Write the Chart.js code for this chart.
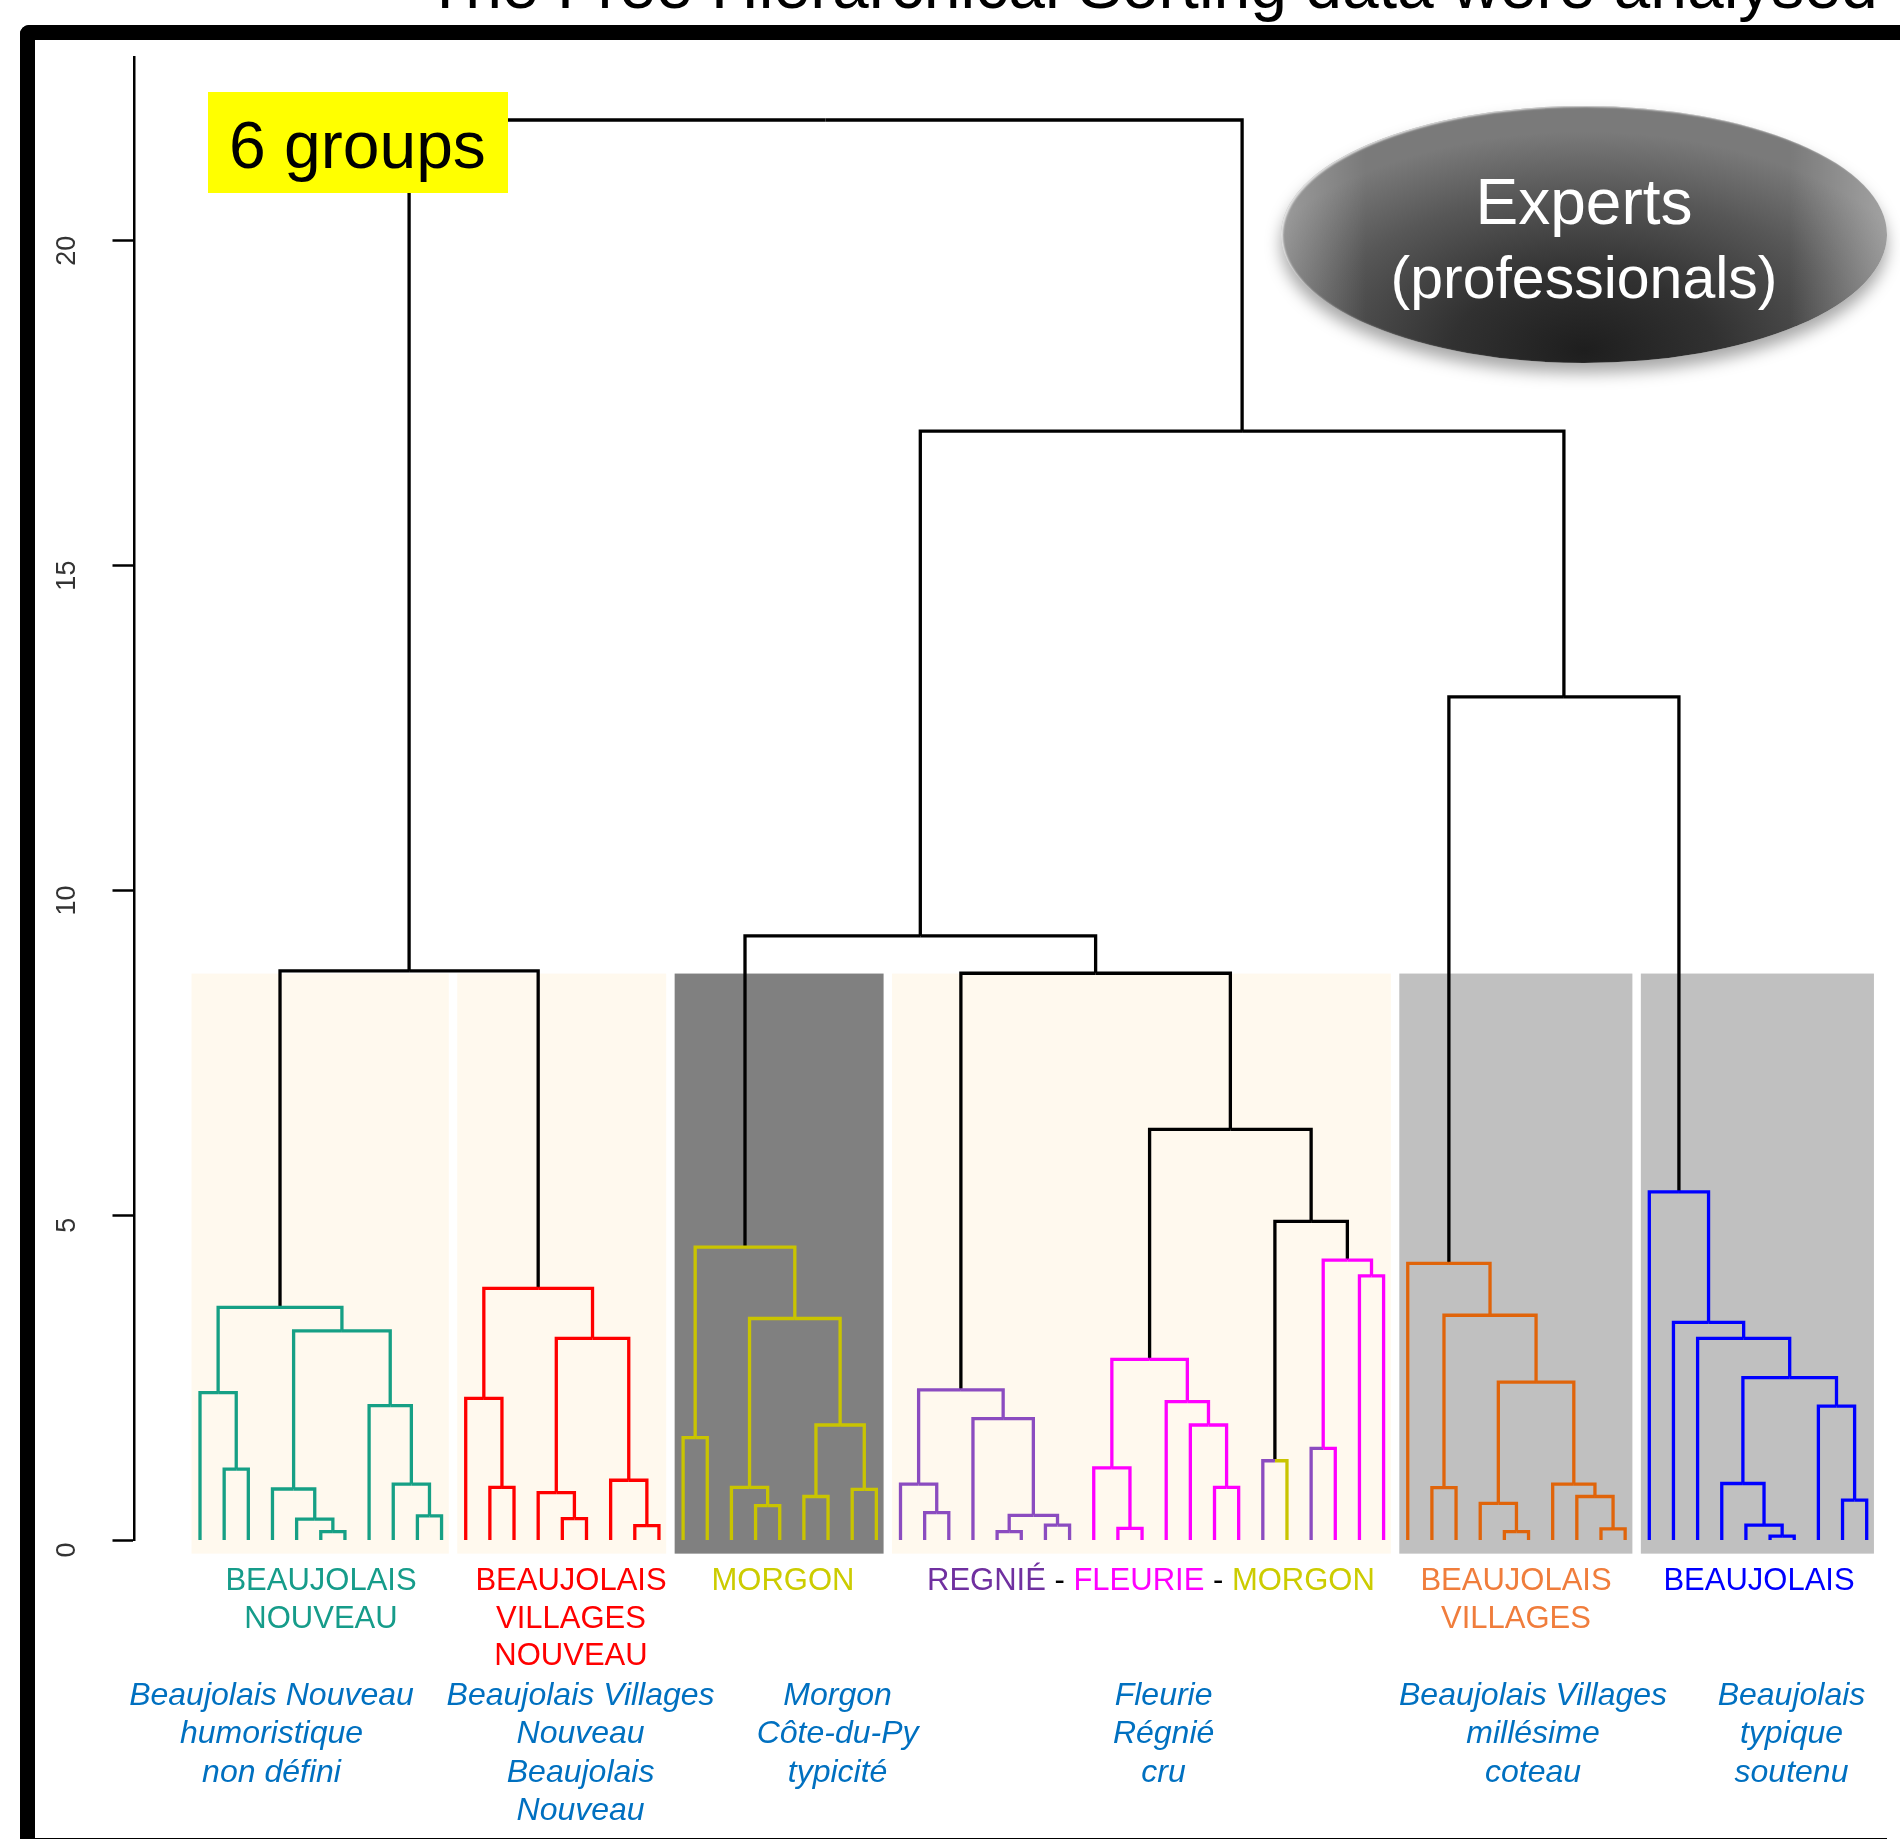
<!DOCTYPE html>
<html lang="fr">
  <head>
    <meta charset="UTF-8" />
    <title>Experts (professionals) - dendrogramme</title>
    <script src="https://cdn.jsdelivr.net/npm/chart.js"></script>
    <style>
      html,
      body {
        margin: 0;
        padding: 0;
        background: #fff;
        overflow: hidden;
      }
      #page {
        position: relative;
        width: 1900px;
        height: 1839px;
        overflow: hidden;
        background: #fff;
        font-family: "Liberation Sans", Arial, sans-serif;
      }
      #dendro {
        position: absolute;
        left: 0;
        top: 0;
      }
      .frame {
        position: absolute;
        left: 20px;
        top: 25px;
        width: 1900px;
        height: 1798px;
        border: 15px solid #000;
        border-right: none;
        border-radius: 9px 0 0 9px;
        pointer-events: none;
      }
      .edge {
        position: absolute;
        left: 1887px;
        top: 40px;
        width: 13px;
        height: 1799px;
        background: #fff;
      }
      .title {
        position: absolute;
        left: 425px;
        top: -48px;
        font-size: 66px;
        line-height: 66px;
        white-space: nowrap;
        color: #000;
      }
      .groups {
        position: absolute;
        left: 208px;
        top: 92px;
        width: 300px;
        height: 101px;
        box-sizing: border-box;
        padding: 20px 0 0 21px;
        background: #ffff00;
        font-size: 66px;
        line-height: 66px;
        white-space: nowrap;
      }
      .experts {
        position: absolute;
        left: 1281px;
        top: 106px;
        width: 606px;
        height: 257px;
        border-radius: 50%;
        background: linear-gradient(90deg, rgba(255, 255, 255, 0.25) 0%, rgba(255, 255, 255, 0) 14%, rgba(255, 255, 255, 0) 84%, rgba(255, 255, 255, 0.3) 100%),
          radial-gradient(ellipse 62% 85% at 50% 95%, #1e1e1e 0%, #313131 35%, #575757 72%, #7a7a7a 100%);
        box-shadow: 0 10px 16px rgba(0, 0, 0, 0.35), inset 2px 1px 2px rgba(255, 255, 255, 0.75);
      }
      .exp-line {
        position: absolute;
        left: 1281px;
        width: 606px;
        text-align: center;
        color: #fff;
        white-space: nowrap;
      }
      .lab,
      .desc {
        position: absolute;
        width: 440px;
        margin-left: -220px;
        text-align: center;
        white-space: nowrap;
      }
      .lab {
        top: 1561px;
        font-size: 31px;
        line-height: 37.6px;
      }
      .desc {
        top: 1675px;
        font-size: 32px;
        line-height: 38.3px;
        font-style: italic;
        color: #0070c0;
      }
    </style>
  </head>
  <body>
    <div id="page">
      <canvas id="dendro" width="1900" height="1839"></canvas>
      <div class="frame"></div>
      <div class="edge"></div>
      <div class="title">The Free Hierarchical Sorting data were analysed</div>
      <div class="groups">6 groups</div>
      <div class="experts"></div>
      <div class="exp-line" style="top: 170px; font-size: 64px; line-height: 64px">Experts</div>
      <div class="exp-line" style="top: 249px; font-size: 59px; line-height: 59px">(professionals)</div>
      <div id="labels"></div>
    </div>

    <script>
      // wine class of each leaf, left to right (70 wines)
      const leafClass = (
        "TTTTTTTTTTT" + "RRRRRRRRR" + "YYYYYYYYY" + "PPPPPPPP" +
        "MMMMMMM" + "PYPMMM" + "OOOOOOOOOO" + "BBBBBBBBBB"
      ).split("");

      // hclust style merges: negative = leaf, positive = earlier merge
      const merges = [
        [-2, -3], [-1, 1], [-6, -7], [-5, 3], [-4, 4], [-10, -11], [-9, 6], [-8, 7], [5, 8], [2, 9],
        [-13, -14], [-12, 11], [-16, -17], [-15, 13], [-19, -20], [-18, 15], [14, 16], [12, 17], [10, 18],
        [-21, -22], [-24, -25], [-23, 21], [-26, -27], [-28, -29], [23, 24], [22, 25], [20, 26],
        [-31, -32], [-30, 28], [-34, -35], [-36, -37], [30, 31], [-33, 32], [29, 33],
        [-39, -40], [-38, 35], [-43, -44], [-42, 37], [-41, 38], [36, 39],
        [-45, -46], [-47, -48], [-49, -50], [42, 43], [41, 44], [40, 45], [34, 46], [27, 47],
        [-52, -53], [-55, -56], [-54, 50], [-59, -60], [-58, 52], [-57, 53], [51, 54], [49, 55], [-51, 56],
        [-66, -67], [-65, 58], [-64, 59], [-69, -70], [-68, 61], [60, 62], [-63, 63], [-62, 64], [-61, 65],
        [57, 66], [48, 67], [19, 68],
      ];
      const heights = [
        1.09, 2.27, 0.13, 0.32, 0.785, 0.37, 0.86, 2.07, 3.22, 3.58,
        0.81, 2.18, 0.33, 0.73, 0.22, 0.92, 3.105, 3.875, 8.76,
        1.575, 0.53, 0.81, 0.67, 0.78, 1.77, 3.41, 4.51,
        0.42, 0.86, 0.13, 0.23, 0.38, 1.87, 2.31,
        0.18, 1.11, 0.81, 1.77, 2.13, 2.78,
        1.22, 1.41, 4.065, 4.31, 4.905, 6.32, 8.725, 9.3,
        0.805, 0.13, 0.565, 0.17, 0.67, 0.86, 2.43, 3.46, 4.26,
        0.06, 0.23, 0.87, 0.615, 2.06, 2.5, 3.105, 3.35, 5.36,
        12.98, 17.07, 21.86,
      ];

      // coloured sub-trees (merge number and the class that colours it)
      const groupRoots = [10, 18, 27, 34, 40, 41, 44, 57, 66];
      const groupRootClass = ["T", "R", "Y", "P", "M", null, "M", "O", "B"];

      // shaded boxes of the 6 groups (first and last leaf)
      const boxFirst = [1, 12, 21, 30, 51, 61];
      const boxLast = [11, 20, 29, 50, 60, 70];
      const boxShade = ["cream", "cream", "dark", "cream", "light", "light"];
      const boxTop = 8.72;
      const boxBottom = -0.21;

      const yTicks = [0, 5, 10, 15, 20];

      const groupNames = [
        ["BEAUJOLAIS", "NOUVEAU"],
        ["BEAUJOLAIS", "VILLAGES", "NOUVEAU"],
        ["MORGON"],
        ["REGNIÉ|-|FLEURIE|-|MORGON"],
        ["BEAUJOLAIS", "VILLAGES"],
        ["BEAUJOLAIS"],
      ];
      const groupDescriptions = [
        ["Beaujolais Nouveau", "humoristique", "non défini"],
        ["Beaujolais Villages", "Nouveau", "Beaujolais", "Nouveau"],
        ["Morgon", "Côte-du-Py", "typicité"],
        ["Fleurie", "Régnié", "cru"],
        ["Beaujolais Villages", "millésime", "coteau"],
        ["Beaujolais", "typique", "soutenu"],
      ];

      // styles
      const lineColour = { T: "#16a085", R: "#ff0000", Y: "#c9c400", P: "#8b4cc0", M: "#ff00ff", O: "#e0640a", B: "#0000ff" };
      const shadeColour = { cream: "#fff9ee", dark: "#808080", light: "#c0c0c0" };
      const nameColour = ["#169c8a", "#ff0000", "#cccc00", null, "#f07d3c", "#0000ff"];
      const mixedColour = ["#7030a0", "#000", "#ff00ff", "#000", "#cccc00"];
      const nameCentre = [321, 571, 783, 1147, 1516, 1759];
      const descCentre = [271.5, 580.6, 837.6, 1163.6, 1533, 1791.5];

      // node positions: leaf i at x = i, merge at middle of its two children
      const nodeX = [];
      const posOf = (c) => (c < 0 ? -c : nodeX[c - 1]);
      const hOf = (c) => (c < 0 ? 0 : heights[c - 1]);
      merges.forEach(([a, b], k) => {
        nodeX[k] = (posOf(a) + posOf(b)) / 2;
      });

      const coloured = [];
      const black = [];
      function walk(k, cls) {
        const gi = groupRoots.indexOf(k);
        const childCls = gi >= 0 ? groupRootClass[gi] : cls;
        const inGroup = gi >= 0 || cls !== undefined;
        const h = heights[k - 1];
        merges[k - 1].forEach((c) => {
          let col;
          if (c < 0) col = lineColour[leafClass[-c - 1]];
          else if (inGroup && childCls) col = lineColour[childCls];
          else col = "#000";
          const seg = {
            data: [
              { x: nodeX[k - 1], y: h },
              { x: posOf(c), y: h },
              { x: posOf(c), y: hOf(c) },
            ],
            borderColor: col,
            borderWidth: 3.3,
            showLine: true,
            pointRadius: 0,
            borderCapStyle: "butt",
            borderJoinStyle: "miter",
            clip: false,
          };
          (col === "#000" ? black : coloured).push(seg);
          if (c > 0) walk(c, inGroup ? childCls : undefined);
        });
      }
      walk(merges.length, undefined);

      const groupBoxes = {
        id: "groupBoxes",
        beforeDatasetsDraw(chart) {
          const { ctx, scales } = chart;
          ctx.save();
          boxFirst.forEach((f, i) => {
            const l = scales.x.getPixelForValue(f - 0.35);
            const r = scales.x.getPixelForValue(boxLast[i] + 0.3);
            const t = scales.y.getPixelForValue(boxTop);
            const b = scales.y.getPixelForValue(boxBottom);
            ctx.fillStyle = shadeColour[boxShade[i]];
            ctx.fillRect(l, t, r - l, b - t);
          });
          ctx.restore();
        },
      };

      new Chart(document.getElementById("dendro"), {
        type: "scatter",
        data: { datasets: coloured.concat(black) },
        options: {
          responsive: false,
          animation: false,
          devicePixelRatio: 1,
          events: [],
          layout: { padding: { top: 57, bottom: 299, left: 0, right: 10 } },
          plugins: { legend: { display: false }, tooltip: { enabled: false } },
          scales: {
            x: { type: "linear", min: -1.712, max: 70.965, display: false },
            y: {
              type: "linear",
              min: 0,
              max: 22.83,
              afterFit: (s) => {
                s.width = 134.5;
              },
              afterBuildTicks: (s) => {
                s.ticks = yTicks.map((v) => ({ value: v }));
              },
              ticks: {
                minRotation: 90,
                maxRotation: 90,
                crossAlign: "center",
                padding: 30,
                labelOffset: 10,
                color: "#333",
                font: { family: "Liberation Sans", size: 27 },
              },
              grid: { drawOnChartArea: false, tickLength: 22, tickWidth: 2.5, tickColor: "#000" },
              border: { display: true, color: "#000", width: 2.5 },
            },
          },
        },
        plugins: [groupBoxes],
      });

      // group names and descriptions under the tree
      const holder = document.getElementById("labels");
      groupNames.forEach((lines, i) => {
        const div = document.createElement("div");
        div.className = "lab";
        div.style.left = nameCentre[i] + "px";
        lines.forEach((line) => {
          const row = document.createElement("div");
          line.split("|").forEach((part, j, all) => {
            const span = document.createElement("span");
            span.textContent = part;
            span.style.color = nameColour[i] || mixedColour[j];
            row.appendChild(span);
            if (j < all.length - 1) row.appendChild(document.createTextNode(" "));
          });
          div.appendChild(row);
        });
        holder.appendChild(div);

        const d = document.createElement("div");
        d.className = "desc";
        d.style.left = descCentre[i] + "px";
        groupDescriptions[i].forEach((line) => {
          const row = document.createElement("div");
          row.textContent = line;
          d.appendChild(row);
        });
        holder.appendChild(d);
      });
    </script>
  </body>
</html>
